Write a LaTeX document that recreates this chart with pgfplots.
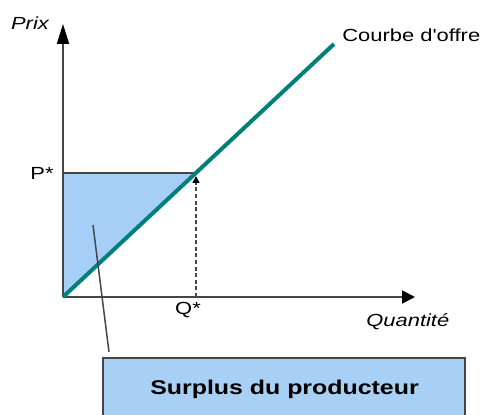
\documentclass[border=0pt]{standalone}
\usepackage{pgfplots}
\pgfplotsset{compat=1.18}
\usetikzlibrary{arrows.meta}
\usepackage{fontspec}
\setmainfont{Liberation Sans}
\newfontfamily\lib{Liberation Sans}

\definecolor{offre}{RGB}{0,128,120}
\definecolor{surplus}{RGB}{166,207,248}
\definecolor{boite}{RGB}{168,208,244}
\definecolor{trait}{RGB}{70,70,70}

\newcommand{\lab}[1]{\scalebox{1.25}[1]{\lib\fontsize{8.8}{10}\selectfont #1}}

\begin{document}
\begin{tikzpicture}
\begin{axis}[
    width=240.5bp, height=207.5bp,
    scale only axis,
    hide axis,
    xmin=0, xmax=481,
    ymin=-415, ymax=0,
    clip=false,
]
% surplus du producteur (triangle)
\addplot[fill=surplus, draw=none] coordinates {(63,-297) (63,-173) (196,-173)} -- cycle;
% ligne P*
\addplot[trait, line width=0.75bp] coordinates {(63,-173) (196,-173)};
% pointillés Q*
\addplot[trait, line width=0.75bp, dash pattern=on 2bp off 1.3bp,
    -{Triangle[length=3.5bp,width=3.5bp,color=black]}] coordinates {(196,-297) (196,-176)};
% axes
\addplot[trait, line width=1bp, -{Triangle[length=10bp,width=6bp,color=black]}] coordinates {(63,-297) (63,-24)};
\addplot[trait, line width=1bp, -{Triangle[length=6.5bp,width=6.5bp,color=black]}] coordinates {(63,-297) (415,-297)};
% courbe d'offre
\addplot[offre, line width=2bp] coordinates {(63,-297) (334,-44)};
% trait de rappel
\addplot[trait, line width=0.75bp] coordinates {(93,-225) (109,-352)};
% boîte
\fill[boite] (axis cs:103,-358) rectangle (axis cs:465,-415);
\draw[trait, line width=0.75bp] (axis cs:103,-415) -- (axis cs:103,-358) -- (axis cs:465,-358) -- (axis cs:465,-415);

\node at (axis cs:30,-23) {\lab{\itshape Prix}};
\node[anchor=west, inner sep=0pt] at (axis cs:342,-35) {\lab{Courbe d'offre}};
\node[anchor=east, inner sep=0pt] at (axis cs:54,-173) {\lab{P*}};
\node at (axis cs:188,-310) {\lab{Q*}};
\node[anchor=west, inner sep=0pt] at (axis cs:366,-322) {\lab{\itshape Quantité}};
\node at (axis cs:284.5,-389) {\scalebox{1.25}[1]{\lib\fontsize{10}{12}\selectfont\bfseries Surplus du producteur}};

\coordinate (sw) at (axis cs:0,-415);
\coordinate (ne) at (axis cs:481,0);
\end{axis}
\pgfresetboundingbox
\path (sw) rectangle (ne);
\end{tikzpicture}
\end{document}
